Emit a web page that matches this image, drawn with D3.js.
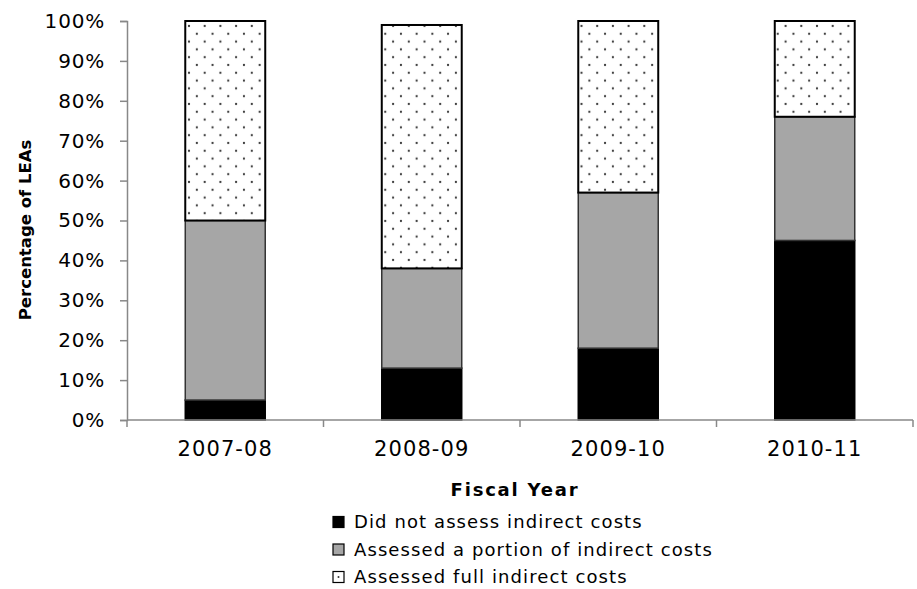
<!DOCTYPE html>
<html><head><meta charset="utf-8">
<script src="https://cdn.jsdelivr.net/npm/d3@7"></script>
<style>
html,body{margin:0;padding:0;background:#fff;}
text{font-family:"DejaVu Sans",sans-serif;fill:#000;}
</style></head>
<body><svg id="c" width="917" height="589"></svg>
<script>
const years = ["2007-08","2008-09","2009-10","2010-11"];
const seriesNames = ["Did not assess indirect costs","Assessed a portion of indirect costs","Assessed full indirect costs"];
const notAssessed = [5,13,18,45];
const portion = [45,25,39,31];
const full = [50,61,43,24];
const yTicks = [0,10,20,30,40,50,60,70,80,90,100];

const svg = d3.select("#c");
const defs = svg.append("defs");
const pat = defs.append("pattern").attr("id","dots").attr("patternUnits","userSpaceOnUse")
  .attr("width",15.7).attr("height",15.6).attr("x",189).attr("y",26);
pat.append("rect").attr("width",15.7).attr("height",15.6).attr("fill","#fff");
[[0,0],[15.7,0],[0,15.6],[15.7,15.6],[7.85,7.8]].forEach(p=>
  pat.append("circle").attr("cx",p[0]).attr("cy",p[1]).attr("r",1.1).attr("fill","#333"));

const L=127, R=913, T=21, B=420;
const x = d3.scaleBand().domain(years).range([L,R]).paddingInner(0.593).paddingOuter(0.2965);
const y = d3.scaleLinear().domain([0,100]).range([B,T]);

const rows = years.map((yr,i)=>({year:yr, a:notAssessed[i], b:portion[i], c:full[i]}));
const stack = d3.stack().keys(["a","b","c"])(rows);
const fills = ["#000","#a6a6a6","url(#dots)"];
const strokes = ["#000","#333","#000"];

stack.forEach((layer,li)=>{
  svg.append("g").selectAll("rect").data(layer).join("rect")
    .attr("x",d=>x(d.data.year)).attr("width",x.bandwidth())
    .attr("y",d=>y(d[1])).attr("height",d=>y(d[0])-y(d[1]))
    .attr("fill",fills[li]).attr("stroke",strokes[li]).attr("stroke-width",li==2?2:1.5);
});

// y axis
const ya = svg.append("g").attr("transform",`translate(${L},0)`)
  .call(d3.axisLeft(y).tickValues(yTicks).tickFormat(d=>d+"%").tickSize(7).tickPadding(15));
ya.select(".domain").attr("stroke","#888").attr("stroke-width",1.5);
ya.selectAll(".tick line").attr("stroke","#888").attr("stroke-width",1.5);
ya.selectAll("text").attr("font-size",20).attr("letter-spacing",0.8).attr("font-family","DejaVu Sans");

// x axis
const xa = svg.append("g").attr("transform",`translate(0,${B})`)
  .call(d3.axisBottom(x).tickSize(0).tickPadding(21));
xa.select(".domain").attr("stroke","#888").attr("stroke-width",1.5).attr("d",`M${L},0H${R}`);
xa.selectAll("text").attr("font-size",21).attr("letter-spacing",1.1).attr("font-family","DejaVu Sans");
const bounds = d3.range(years.length+1).map(i=>L+i*x.step());
xa.selectAll(".bt").data(bounds).join("line").attr("class","bt")
  .attr("x1",d=>d).attr("x2",d=>d).attr("y1",0).attr("y2",7)
  .attr("stroke","#888").attr("stroke-width",1.5);

// titles
svg.append("text").attr("x",515).attr("y",496).attr("text-anchor","middle")
  .attr("font-size",18).attr("letter-spacing",1.8).attr("font-weight","bold").text("Fiscal Year");
svg.append("text").attr("transform",`translate(31,230) rotate(-90)`).attr("text-anchor","middle")
  .attr("font-size",16.5).attr("font-weight","bold").text("Percentage of LEAs");

// legend
const lg = svg.append("g");
const lfills = ["#000","#a6a6a6","#fff"];
seriesNames.forEach((n,i)=>{
  const cy = 522 + i*27.5;
  lg.append("rect").attr("x",333).attr("y",cy-5.5).attr("width",11).attr("height",11)
    .attr("fill",lfills[i]).attr("stroke","#000").attr("stroke-width",1.2);
  if(i==2) lg.append("circle").attr("cx",338.5).attr("cy",cy).attr("r",1).attr("fill","#333");
  lg.append("text").attr("x",354).attr("y",cy).attr("dy","0.36em").attr("font-size",18)
    .attr("letter-spacing",1.1).text(n);
});
</script></body></html>
